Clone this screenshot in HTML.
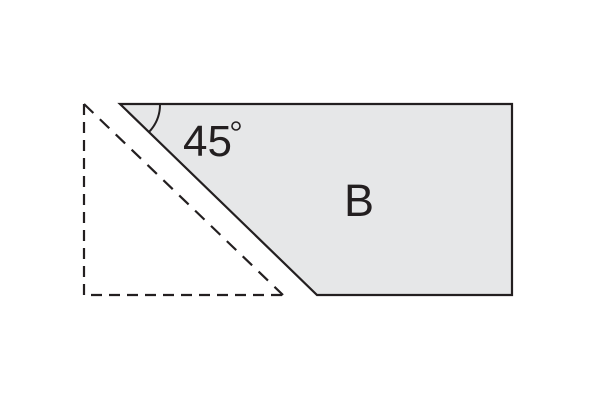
<!DOCTYPE html>
<html><head><style>body{margin:0;background:#fff}</style></head><body>
<svg width="600" height="400" xmlns="http://www.w3.org/2000/svg">
<rect width="600" height="400" fill="#fff"/>
<polygon points="120,104 512,104 512,295 317,295" fill="#e6e7e8" stroke="#231f20" stroke-width="2.2"/>
<polyline points="84,104 84,295 283,295" fill="none" stroke="#231f20" stroke-width="2.2" stroke-dasharray="11,7"/>
<line x1="84" y1="104" x2="283" y2="295" stroke="#231f20" stroke-width="2.2" stroke-dasharray="13,9"/>
<path d="M160,104 A40,40 0 0 1 149,132" fill="none" stroke="#231f20" stroke-width="2"/>
<text x="183" y="156" font-family="Liberation Sans, sans-serif" font-size="44" fill="#231f20">45</text>
<circle cx="236" cy="126" r="4" fill="none" stroke="#231f20" stroke-width="1.6"/>
<text x="344" y="216" font-family="Liberation Sans, sans-serif" font-size="45" fill="#231f20">B</text>
</svg>
</body></html>
